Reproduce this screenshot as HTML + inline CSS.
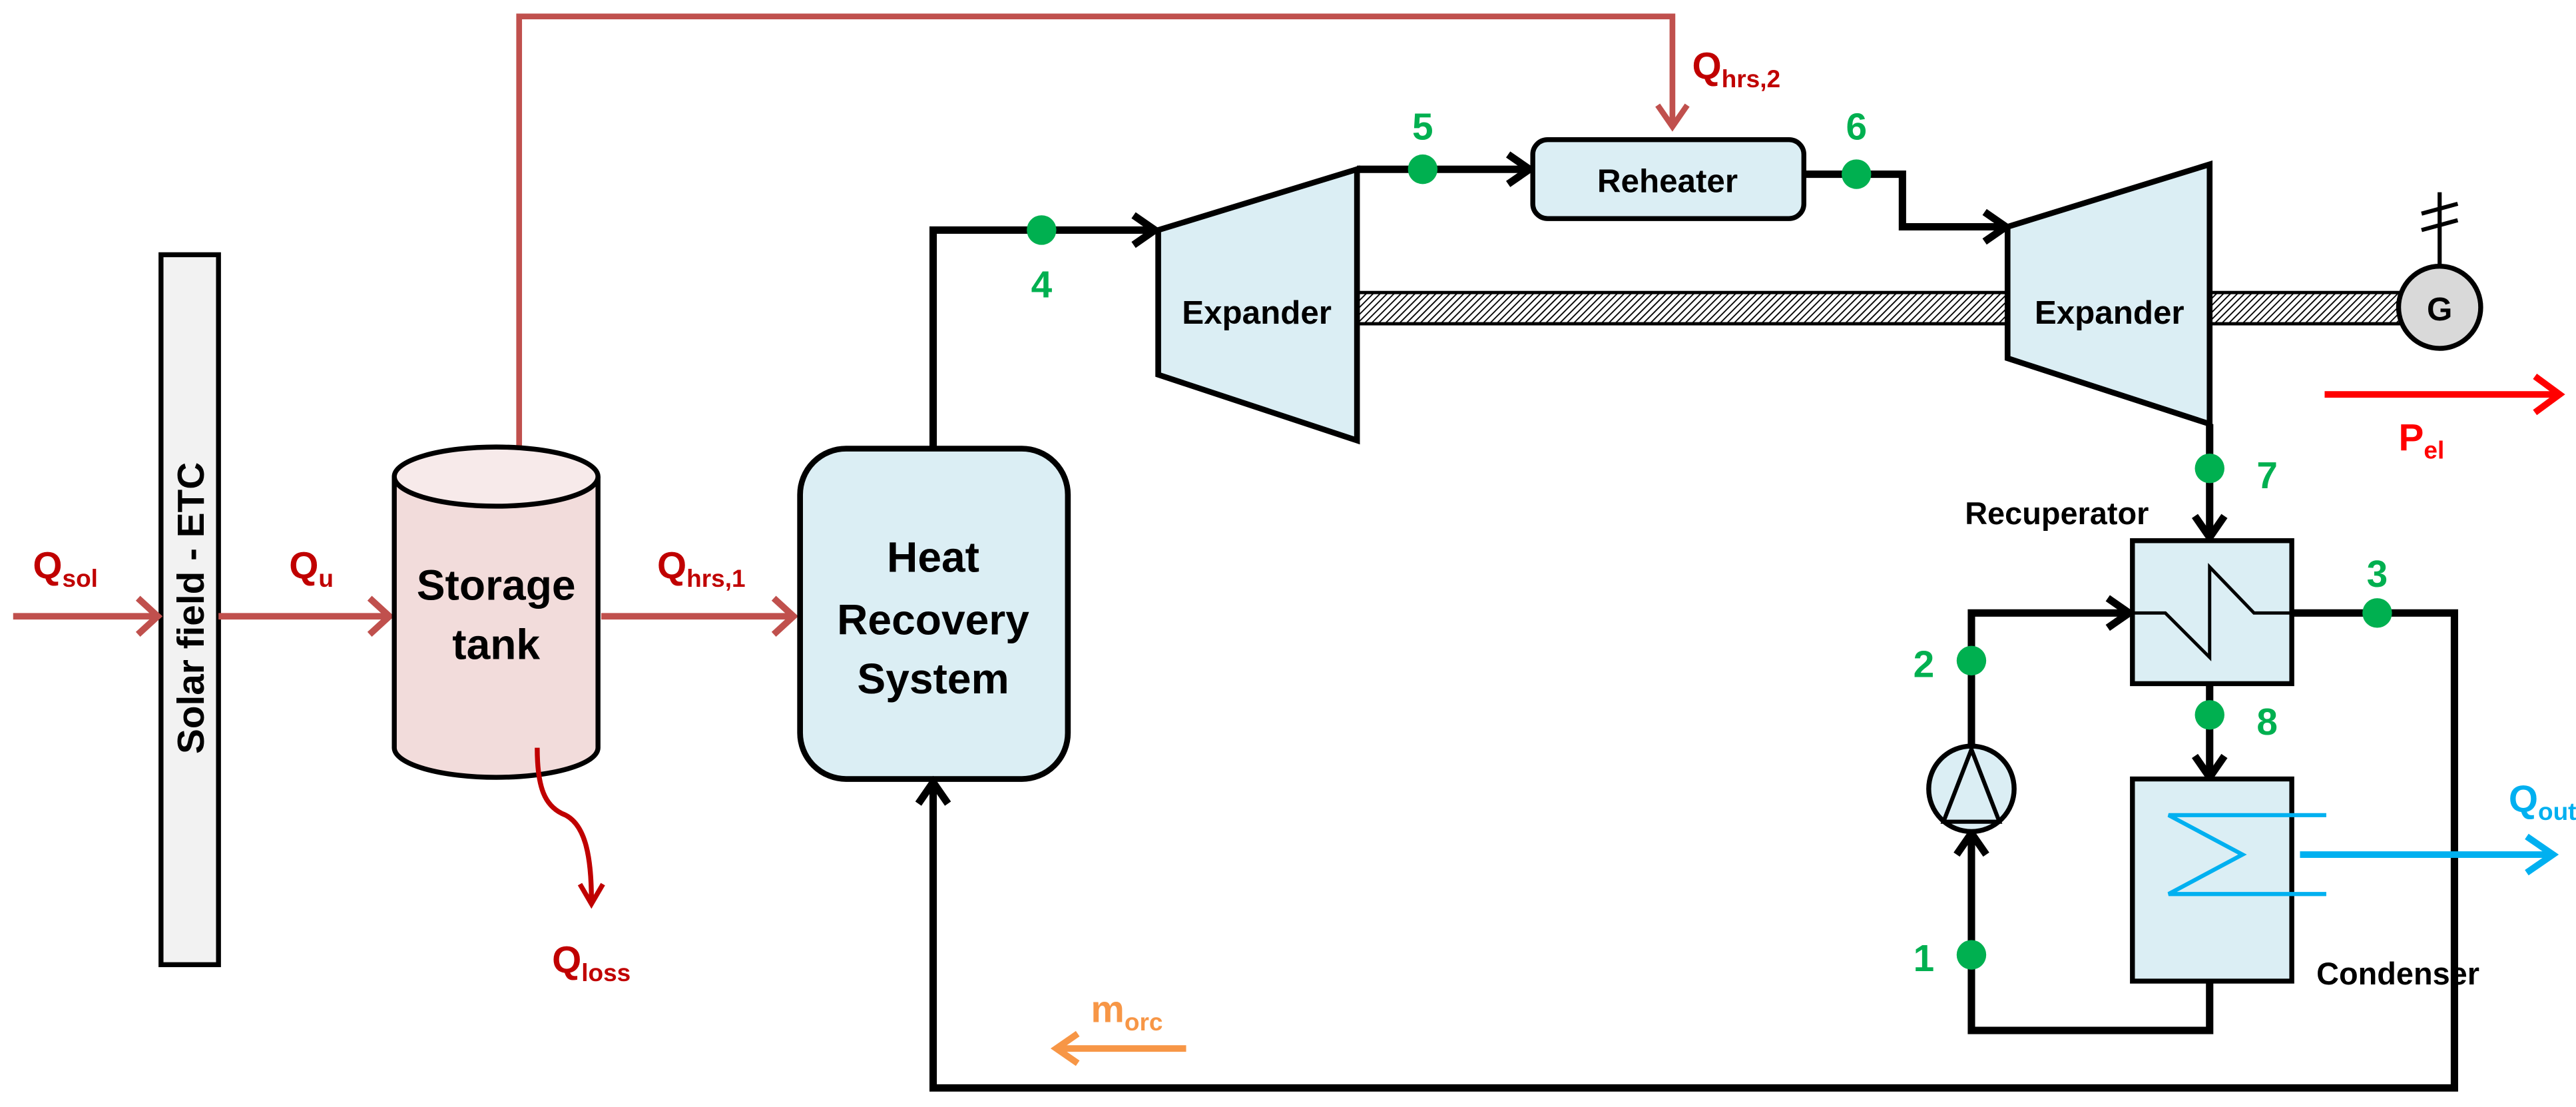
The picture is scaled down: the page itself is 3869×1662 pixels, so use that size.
<!DOCTYPE html>
<html><head><meta charset="utf-8"><style>
html,body{margin:0;padding:0;background:#fff;width:3869px;height:1662px;overflow:hidden}
svg{display:block}
text{font-family:"Liberation Sans",sans-serif;font-weight:bold}
</style></head><body>
<svg width="3869" height="1662" viewBox="0 0 1568 673.6" preserveAspectRatio="none" xmlns="http://www.w3.org/2000/svg">
<defs>
<pattern id="hatch" width="3" height="3" patternUnits="userSpaceOnUse" patternTransform="rotate(45)">
<rect width="3" height="3" fill="#fff"/><line x1="0" y1="0" x2="0" y2="3" stroke="#000" stroke-width="1.5"/>
</pattern>
</defs>
<rect x="826" y="178" width="396" height="19" fill="url(#hatch)" stroke="#000" stroke-width="2"/>
<rect x="1345" y="178" width="117" height="19" fill="url(#hatch)" stroke="#000" stroke-width="2"/>

<rect x="98" y="155" width="35" height="432" fill="#f2f2f2" stroke="#000" stroke-width="3"/>
<text transform="translate(124,370) rotate(-90)" text-anchor="middle" font-size="23">Solar field - ETC</text>

<g stroke="#c0504d" stroke-width="4" fill="none">
<line x1="8" y1="375" x2="95" y2="375"/><polyline points="84,364 96,375 84,386"/>
<line x1="133" y1="375" x2="236" y2="375"/><polyline points="225,364 237,375 225,386"/>
<line x1="366" y1="375" x2="482" y2="375"/><polyline points="471,364 483,375 471,386"/>
<polyline points="316,272 316,10 1018,10 1018,76" stroke-width="3.5"/>
<polyline points="1009,64 1018,77 1027,64" stroke-width="3.5"/>
</g>
<text x="20" y="352" font-size="23" fill="#c00000">Q<tspan font-size="15" dy="5">sol</tspan></text>
<text x="176" y="352" font-size="23" fill="#c00000">Q<tspan font-size="15" dy="5">u</tspan></text>
<text x="400" y="352" font-size="23" fill="#c00000">Q<tspan font-size="15" dy="5">hrs,1</tspan></text>
<text x="1030" y="48" font-size="23" fill="#c00000">Q<tspan font-size="15" dy="5">hrs,2</tspan></text>

<path d="M240,290 L240,455 A62,18 0 0 0 364,455 L364,290" fill="#f2dcdb" stroke="#000" stroke-width="3"/>
<ellipse cx="302" cy="290" rx="62" ry="18" fill="#f7eaea" stroke="#000" stroke-width="3"/>
<text x="302" y="365" text-anchor="middle" font-size="26">Storage</text>
<text x="302" y="401" text-anchor="middle" font-size="26">tank</text>
<path d="M327,455 C327,480 332,490 342,495 C356,500 360,520 360,548" stroke="#c00000" stroke-width="3" fill="none"/>
<polyline points="353,538 360,550 367,538" stroke="#c00000" stroke-width="3" fill="none"/>
<text x="336" y="592" font-size="23" fill="#c00000">Q<tspan font-size="15" dy="5">loss</tspan></text>

<rect x="487" y="273" width="163" height="201" rx="28" fill="#dbeef4" stroke="#000" stroke-width="3.5"/>
<text x="568" y="348" text-anchor="middle" font-size="26">Heat</text>
<text x="568" y="386" text-anchor="middle" font-size="26">Recovery</text>
<text x="568" y="422" text-anchor="middle" font-size="26">System</text>

<g stroke="#000" stroke-width="4.5" fill="none">
<polyline points="568,272 568,140 702,140"/><polyline points="690,131 703,140 690,149"/>
<polyline points="826,103 930,103"/><polyline points="918,94 931,103 918,112"/>
<polyline points="1098,106 1158,106 1158,138 1220,138"/><polyline points="1208,129 1221,138 1208,147"/>
<polyline points="1345,258 1345,326"/><polyline points="1336,314 1345,327 1354,314"/>
<polyline points="1395,373 1494,373 1494,662 568,662 568,476"/><polyline points="559,489 568,476 577,489"/>
<polyline points="1200,454 1200,373 1295,373"/><polyline points="1283,364 1296,373 1283,382"/>
<polyline points="1345,416 1345,472"/><polyline points="1336,460 1345,473 1354,460"/>
<polyline points="1345,597 1345,627 1200,627 1200,508"/><polyline points="1191,520 1200,507 1209,520"/>
<line x1="1485" y1="162" x2="1485" y2="117" stroke-width="2.5"/>
<line x1="1474" y1="130" x2="1496" y2="124" stroke-width="2.5"/>
<line x1="1474" y1="140" x2="1496" y2="134" stroke-width="2.5"/>
</g>

<polygon points="705,140 826,103 826,268 705,228" fill="#dbeef4" stroke="#000" stroke-width="3.5"/>
<text x="765" y="197" text-anchor="middle" font-size="20">Expander</text>
<polygon points="1222,138 1345,100 1345,258 1222,218" fill="#dbeef4" stroke="#000" stroke-width="3.5"/>
<text x="1284" y="197" text-anchor="middle" font-size="20">Expander</text>

<rect x="933" y="85" width="165" height="48" rx="9" fill="#dbeef4" stroke="#000" stroke-width="3"/>
<text x="1015" y="117" text-anchor="middle" font-size="20">Reheater</text>

<circle cx="1485" cy="187" r="25" fill="#d9d9d9" stroke="#000" stroke-width="3"/>
<text x="1485" y="195" text-anchor="middle" font-size="20">G</text>
<g stroke="#ff0000" stroke-width="4" fill="none">
<line x1="1415" y1="240" x2="1557" y2="240"/><polyline points="1543,229 1558,240 1543,251"/>
</g>
<text x="1460" y="274" font-size="23" fill="#ff0000">P<tspan font-size="15" dy="5">el</tspan></text>

<rect x="1298" y="329" width="97" height="87" fill="#dbeef4" stroke="#000" stroke-width="3"/>
<polyline points="1298,373 1318,373 1345,400 1345,345 1372,373 1395,373" stroke="#000" stroke-width="2" fill="none"/>
<text x="1252" y="319" text-anchor="middle" font-size="19">Recuperator</text>

<rect x="1298" y="474" width="97" height="123" fill="#dbeef4" stroke="#000" stroke-width="3"/>
<polyline points="1416,496 1320,496 1365,520 1320,544 1416,544" stroke="#00b0f0" stroke-width="2.5" fill="none"/>
<g stroke="#00b0f0" stroke-width="4" fill="none">
<line x1="1400" y1="520" x2="1553" y2="520"/><polyline points="1538,509 1554,520 1538,531"/>
</g>
<text x="1527" y="494" font-size="23" fill="#00b0f0">Q<tspan font-size="15" dy="5">out</tspan></text>
<text x="1410" y="599" font-size="19">Condenser</text>

<circle cx="1200" cy="480" r="26" fill="#dbeef4" stroke="#000" stroke-width="3"/>
<polygon points="1200,456 1183,500 1217,500" fill="none" stroke="#000" stroke-width="2.5"/>

<g stroke="#f79646" stroke-width="4" fill="none">
<line x1="722" y1="638" x2="644" y2="638"/><polyline points="656,629 643,638 656,647"/>
</g>
<text x="664" y="622" font-size="23" fill="#f79646">m<tspan font-size="15" dy="5">orc</tspan></text>

<g fill="#00b050">
<circle cx="634" cy="140" r="9"/><circle cx="866" cy="103" r="9"/><circle cx="1130" cy="106" r="9"/>
<circle cx="1345" cy="285" r="9"/><circle cx="1447" cy="373" r="9"/><circle cx="1200" cy="402" r="9"/>
<circle cx="1345" cy="435" r="9"/><circle cx="1200" cy="581" r="9"/>
</g>
<g fill="#00b050" font-size="23" text-anchor="middle">
<text x="634" y="181">4</text><text x="866" y="85">5</text><text x="1130" y="85">6</text>
<text x="1380" y="297">7</text><text x="1447" y="357">3</text><text x="1171" y="412">2</text>
<text x="1380" y="447">8</text><text x="1171" y="591">1</text>
</g>
</svg>
</body></html>
